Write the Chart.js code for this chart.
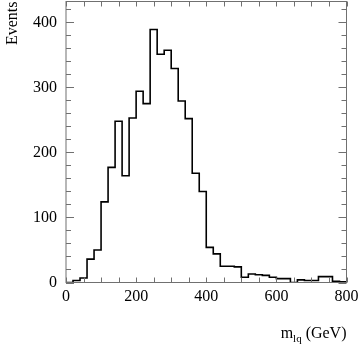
<!DOCTYPE html>
<html>
<head>
<meta charset="utf-8">
<script src="https://cdn.jsdelivr.net/npm/chart.js@4.4.0/dist/chart.umd.min.js"></script>
<style>
html, body { margin: 0; padding: 0; background: #fff; }
#wrap { width: 360px; height: 361px; }
</style>
</head>
<body>
<div id="wrap"><canvas id="hist" width="360" height="361"></canvas></div>
<script>
// lower edge of each 20 GeV bin
var binLow = [0, 20, 40, 60, 80, 100, 120, 140, 160, 180,
              200, 220, 240, 260, 280, 300, 320, 340, 360, 380,
              400, 420, 440, 460, 480, 500, 520, 540, 560, 580,
              600, 620, 640, 660, 680, 700, 720, 740, 760, 780];
var binHigh = 800;
var events = [0, 3, 7, 36, 50, 124, 177, 248, 164, 253,
              294, 275, 389, 351, 357, 329, 279, 252, 168, 140,
              54, 44, 25, 25, 24, 8, 13, 12, 11, 8,
              6, 6, 0, 4, 3, 3, 9, 9, 2, 1];
var xTickLabels = [0, 200, 400, 600, 800];
var yTickLabels = [0, 100, 200, 300, 400];

var serif = 'Liberation Serif';

function histPoints() {
    var pts = binLow.map(function(x, i) { return { x: x, y: events[i] }; });
    pts.push({ x: binHigh, y: events[events.length - 1] });
    return pts;
}

function noPad(s) {
    s.paddingTop = 0; s.paddingBottom = 0; s.paddingLeft = 0; s.paddingRight = 0;
}

// frame, inward ticks on all four sides, and the x axis title with subscript
var frameTicks = {
    id: 'frameTicks',
    afterDraw: function(chart) {
        var ctx = chart.ctx, a = chart.chartArea;
        var xs = chart.scales.x, ys = chart.scales.y;
        ctx.save();
        ctx.strokeStyle = '#707070';
        ctx.lineWidth = 1;
        ctx.strokeRect(a.left, a.top, a.right - a.left, a.bottom - a.top);
        ctx.beginPath();
        for (var v = xs.min; v <= xs.max; v += 50) {
            var px = Math.round(xs.getPixelForValue(v)) + 0.5;
            ctx.moveTo(px, a.bottom); ctx.lineTo(px, a.bottom - 5);
            ctx.moveTo(px, a.top); ctx.lineTo(px, a.top + 5);
        }
        for (var w = 0; w <= ys.max; w += 20) {
            var py = Math.round(ys.getPixelForValue(w)) + 0.5;
            var len = (w % 100 === 0) ? 8 : 5;
            ctx.moveTo(a.left, py); ctx.lineTo(a.left + len, py);
            ctx.moveTo(a.right, py); ctx.lineTo(a.right - len, py);
        }
        ctx.stroke();

        ctx.fillStyle = '#000';
        ctx.textBaseline = 'alphabetic';
        var big = '16px "' + serif + '"', small = '11px "' + serif + '"';
        ctx.font = big;
        var w1 = ctx.measureText('m').width, w3 = ctx.measureText(' (GeV)').width;
        ctx.font = small;
        var w2 = ctx.measureText('lq').width;
        var x0 = a.right - (w1 + w2 + w3), base = 338;
        ctx.font = big;
        ctx.fillText('m', x0, base);
        ctx.font = small;
        ctx.fillText('lq', x0 + w1, base + 4);
        ctx.font = big;
        ctx.fillText(' (GeV)', x0 + w1 + w2, base);
        ctx.restore();
    }
};

var config = {
    type: 'line',
    data: {
        datasets: [{
            data: histPoints(),
            borderColor: '#000',
            borderWidth: 1.6,
            fill: false,
            stepped: 'before',
            pointRadius: 0
        }]
    },
    options: {
        responsive: false,
        animation: false,
        layout: { padding: { top: 1.5, right: 13.5, left: 0, bottom: 0 } },
        plugins: { legend: { display: false }, tooltip: { enabled: false } },
        scales: {
            x: {
                type: 'linear',
                min: 0,
                max: 800,
                afterBuildTicks: function(s) { s.ticks = xTickLabels.map(function(v) { return { value: v }; }); },
                afterFit: function(s) { s.height = 78.5; noPad(s); },
                grid: { display: false, drawTicks: false },
                border: { display: false },
                ticks: { font: { family: serif, size: 16 }, color: '#000', padding: 5, maxRotation: 0, autoSkip: false }
            },
            y: {
                min: 0,
                max: 432,
                afterBuildTicks: function(s) { s.ticks = yTickLabels.map(function(v) { return { value: v }; }); },
                afterFit: function(s) { s.width = 66; noPad(s); },
                grid: { display: false, drawTicks: false },
                border: { display: false },
                ticks: { font: { family: serif, size: 16 }, color: '#000', padding: 9, autoSkip: false },
                title: {
                    display: true,
                    text: 'Events',
                    align: 'end',
                    color: '#000',
                    font: { family: serif, size: 16 },
                    padding: { top: 3, bottom: 0 }
                }
            }
        }
    },
    plugins: [frameTicks]
};

var ctx = document.getElementById('hist').getContext('2d');
window.histChart = new Chart(ctx, config);
</script>
</body>
</html>
